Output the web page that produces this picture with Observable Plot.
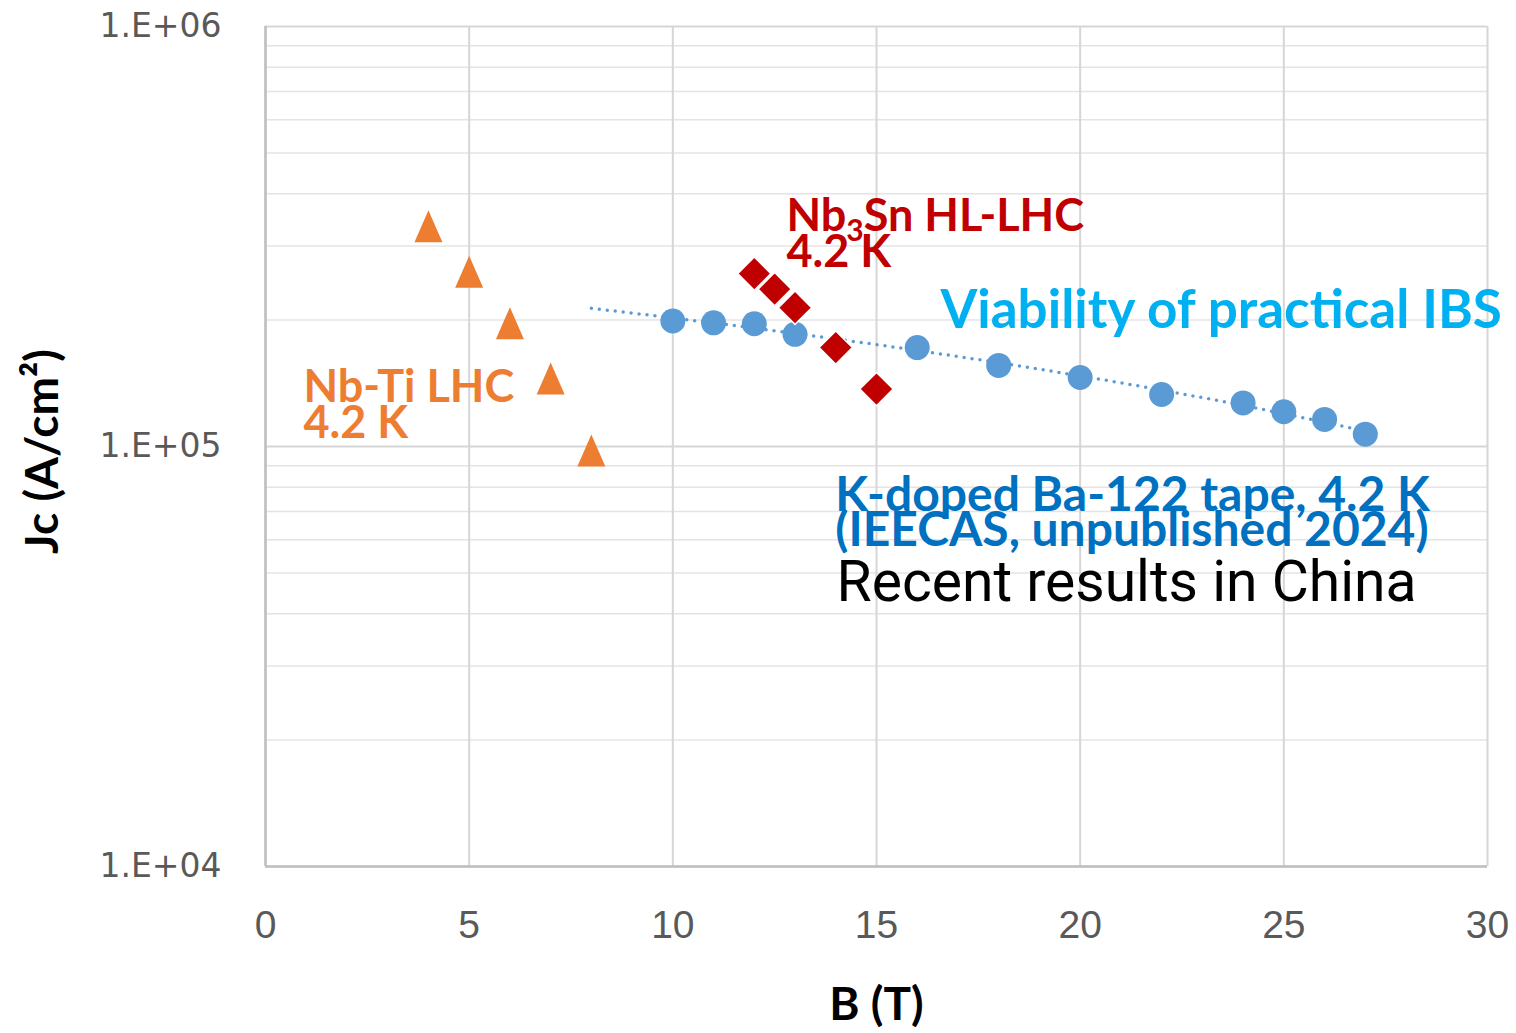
<!DOCTYPE html>
<html><head><meta charset="utf-8">
<script src="https://cdn.jsdelivr.net/npm/d3@7"></script>
<script src="https://cdn.jsdelivr.net/npm/@observablehq/plot@0.6"></script>
<style>html,body{margin:0;padding:0;background:#fff;} #chart svg{display:block}</style>
</head><body><div id="chart"></div>
<script>
// ---- data ----
const nbtiB = [4, 5, 6, 7, 8];
const nbtiJc = [325000, 253000, 191000, 141000, 95000];
const nb3snB = [12, 12.5, 13, 14, 15];
const nb3snJc = [258000, 237000, 214000, 172000, 137000];
const ibsB = [10, 11, 12, 13, 16, 18, 20, 22, 24, 25, 26, 27];
const ibsJc = [199000, 197000, 196000, 185000, 172000, 156000, 146000, 133000, 127000, 121000, 116000, 107000];
const xTicks = [0, 5, 10, 15, 20, 25, 30];
const yTicks = [1e4, 1e5, 1e6];
const yTickLabels = ["1.E+04", "1.E+05", "1.E+06"];
const yMinorMultipliers = [2, 3, 4, 5, 6, 7, 8, 9];
const yMinorDecades = [1e4, 1e5];
const trendFrom = 8, trendTo = 27;   // linear trendline (forecast backward to 8 T)

const annotations = [
  {text: "Nb-Ti LHC\n4.2 K", x: 0.93, y: 104500, fill: "#ED7D31", font: "Lato", weight: "bold", size: 45, lh: 0.8},
  {text: "Nb3Sn HL-LHC\n4.2 K", x: 12.79, y: 268000, fill: "#C00000", font: "Lato", weight: "bold", size: 45, lh: 0.8},
  {text: "Viability of practical IBS", x: 16.57, y: 191000, fill: "#00B0F0", font: "Lato", weight: "bold", size: 53, lh: 1},
  {text: "K-doped Ba-122 tape, 4.2 K\n(IEECAS, unpublished 2024)", x: 13.99, y: 58100, fill: "#0070C0", font: "Lato", weight: "bold", size: 48, lh: 0.71},
  {text: "Recent results in China", x: 14.02, y: 42800, fill: "#000000", font: "Roboto", weight: "normal", size: 57, lh: 1}
];

// ---- derived tables ----
const nbti = nbtiB.map((b, i) => ({B: b, Jc: nbtiJc[i]}));
const nb3sn = nb3snB.map((b, i) => ({B: b, Jc: nb3snJc[i]}));
const ibs = ibsB.map((b, i) => ({B: b, Jc: ibsJc[i]}));
const yMinor = yMinorDecades.flatMap(d => yMinorMultipliers.map(m => m * d));

// least-squares linear trendline of the IBS data (as in the spreadsheet)
const mx = d3.mean(ibsB), my = d3.mean(ibsJc);
const sxy = d3.sum(ibsB, (b, i) => (b - mx) * (ibsJc[i] - my));
const sxx = d3.sum(ibsB, b => (b - mx) * (b - mx));
const slope = sxy / sxx, intercept = my - slope * mx;
const trend = d3.range(trendFrom, trendTo + 1e-9, 0.25).map(b => ({B: b, Jc: intercept + slope * b}));

const triSymbol = {
  draw(ctx, size) {
    const k = Math.sqrt(size / Math.PI);
    ctx.moveTo(0, -1.333 * k);
    ctx.lineTo(0.875 * k, 0.667 * k);
    ctx.lineTo(-0.875 * k, 0.667 * k);
    ctx.closePath();
  }
};

const chart = Plot.plot({
  width: 1516, height: 1033,
  marginLeft: 265, marginRight: 29, marginTop: 26, marginBottom: 167,
  style: {background: "#fff", overflow: "visible"},
  x: {domain: [0, 30]},
  y: {type: "log", domain: [1e4, 1e6]},
  marks: [
    Plot.ruleY(yMinor, {stroke: "#e4e4e4", strokeWidth: 1.5}),
    Plot.ruleY(yTicks, {stroke: "#d6d6d6", strokeWidth: 2}),
    Plot.ruleX(xTicks, {stroke: "#d6d6d6", strokeWidth: 2}),
    Plot.ruleX([0], {stroke: "#bfbfbf", strokeWidth: 2.5}),
    Plot.ruleY([1e4], {stroke: "#bfbfbf", strokeWidth: 2.5}),
    Plot.axisY(yTicks, {tickSize: 0, tickPadding: 44, tickFormat: d => yTickLabels[yTicks.indexOf(d)],
      fontSize: 33, fontFamily: "DejaVu Sans", color: "#595959", label: null}),
    Plot.axisX(xTicks, {tickSize: 0, tickPadding: 44, fontSize: 39, fontFamily: "Liberation Sans",
      color: "#595959", label: null}),
    Plot.text(["B (T)"], {x: 15, frameAnchor: "bottom", dy: 139, text: d => d, lineAnchor: "middle", textAnchor: "middle",
      fontFamily: "Lato", fontWeight: "bold", fontSize: 46, fill: "#000"}),
    Plot.text(["Jc (A/cm²)"], {frameAnchor: "left", dx: -222, dy: 5, rotate: -90, text: d => d,
      textAnchor: "middle", lineAnchor: "middle",
      fontFamily: "Lato", fontWeight: "bold", fontSize: 46, fill: "#000"}),
    Plot.dot(nbti, {x: "B", y: "Jc", symbol: triSymbol, r: 16, fill: "#ED7D31", stroke: "none"}),
    Plot.line(trend, {x: "B", y: "Jc", stroke: "#5B9BD5", strokeWidth: 3.5, strokeDasharray: "0 8", strokeLinecap: "round"}),
    Plot.dot(ibs, {x: "B", y: "Jc", r: 12.5, fill: "#5B9BD5", stroke: "none"}),
    Plot.dot(nb3sn, {x: "B", y: "Jc", symbol: "diamond2", r: 15, fill: "#C00000", stroke: "#fff", strokeWidth: 1.5}),
    ...annotations.map(a => Plot.text([a], {x: "x", y: "y", text: "text", textAnchor: "start", lineAnchor: "bottom",
      fill: a.fill, fontFamily: a.font, fontWeight: a.weight, fontSize: a.size, lineHeight: a.lh}))
  ]
});

// subscript "3" in Nb3Sn
chart.querySelectorAll("text, tspan").forEach(el => {
  if (el.children.length === 0 && el.textContent === "Nb3Sn HL-LHC") {
    el.textContent = "Nb";
    const ns = "http://www.w3.org/2000/svg";
    const sub = document.createElementNS(ns, "tspan");
    sub.setAttribute("dy", "10"); sub.setAttribute("font-size", "30"); sub.textContent = "3";
    const rest = document.createElementNS(ns, "tspan");
    rest.setAttribute("dy", "-10"); rest.textContent = "Sn HL-LHC";
    el.appendChild(sub); el.appendChild(rest);
  }
});

document.getElementById("chart").appendChild(chart);
</script>
</body></html>
